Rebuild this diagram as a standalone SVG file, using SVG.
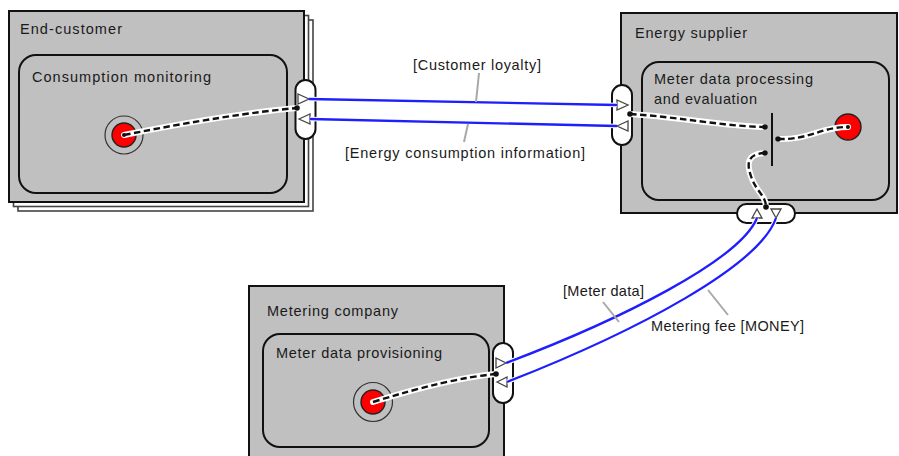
<svg xmlns="http://www.w3.org/2000/svg" width="899" height="456" viewBox="0 0 899 456">
  <style>
    .actor { fill: #c0c0c0; stroke: #111; stroke-width: 2; }
    .stack { fill: #ffffff; stroke: #444; stroke-width: 1.6; }
    .activity { fill: #c0c0c0; stroke: #111; stroke-width: 2; }
    .port { fill: #ffffff; stroke: #111; stroke-width: 2; }
    .tri { fill: #ffffff; stroke: #444; stroke-width: 1.3; stroke-linejoin: miter; }
    .lbl { font-family: "Liberation Sans", Arial, sans-serif; font-size: 14.5px; fill: #1a1a1a; }
    .halo { fill: none; stroke: #ffffff; stroke-width: 6; stroke-linecap: round; }
    .dash { fill: none; stroke: #111; stroke-width: 2.4; stroke-dasharray: 6.5 3.5; }
    .dot { fill: #111; }
    .flow-halo { fill: none; stroke: #ffffff; stroke-width: 4.5; }
    .flow { fill: none; stroke: #1e1eff; stroke-width: 2.3; }
    .leader { stroke: #a8a8a8; stroke-width: 2; }
    .ring { fill: none; stroke: #333; stroke-width: 1.2; }
    .stim { fill: #ff0000; stroke: #222; stroke-width: 1.4; }
  </style>

  <rect width="899" height="456" fill="#ffffff"/>

  <!-- End-customer (market segment: stacked actor) -->
  <g id="end-customer">
    <rect class="stack" x="18" y="20" width="295" height="191"/>
    <rect class="stack" x="13.5" y="15.5" width="295" height="191"/>
    <rect class="actor" x="9" y="11" width="295" height="191"/>
    <text class="lbl" x="20" y="34" textLength="102" lengthAdjust="spacing">End-customer</text>
    <g id="consumption-monitoring">
      <rect class="activity" x="19" y="55" width="268" height="138" rx="17"/>
      <text class="lbl" x="32" y="82" textLength="179" lengthAdjust="spacing">Consumption monitoring</text>
      <circle class="ring" cx="124" cy="135" r="19"/>
      <circle class="stim" cx="124" cy="135" r="12"/>
      <g id="ec-port">
        <rect class="port" x="295.5" y="80" width="20" height="59" rx="10"/>
        <polygon class="tri" points="298,94 309,99 298,104"/>
        <polygon class="tri" points="299,119 310,114 310,124"/>
      </g>
    </g>
  </g>

  <!-- Energy supplier -->
  <g id="energy-supplier">
    <rect class="actor" x="621" y="13" width="276" height="200"/>
    <text class="lbl" x="635" y="38" textLength="112" lengthAdjust="spacing">Energy supplier</text>
    <g id="meter-data-processing">
      <rect class="activity" x="642" y="62" width="247" height="138" rx="17"/>
      <text class="lbl" x="654" y="84" textLength="159" lengthAdjust="spacing">Meter data processing</text>
      <text class="lbl" x="654" y="104" textLength="103" lengthAdjust="spacing">and evaluation</text>
      <line x1="772" y1="113" x2="772" y2="166" stroke="#111" stroke-width="2"/>
      <circle class="stim" cx="848" cy="127" r="13"/>
    </g>
    <g id="es-port-left">
      <rect class="port" x="612" y="85" width="20" height="60" rx="10"/>
      <polygon class="tri" points="617,100 628,105 617,110"/>
      <polygon class="tri" points="617,126 628,121 628,131"/>
    </g>
    <g id="es-port-bottom">
      <rect class="port" x="737" y="204" width="58" height="19" rx="9.5"/>
      <polygon class="tri" points="757,209 762,218 752,218"/>
      <polygon class="tri" points="771,209 781,209 776,218"/>
    </g>
  </g>

  <!-- Metering company -->
  <g id="metering-company">
    <rect class="actor" x="249" y="286" width="255" height="180"/>
    <text class="lbl" x="267" y="316" textLength="131" lengthAdjust="spacing">Metering company</text>
    <g id="meter-data-provisioning">
      <rect class="activity" x="263" y="334" width="226" height="113" rx="17"/>
      <text class="lbl" x="276" y="358" textLength="166" lengthAdjust="spacing">Meter data provisioning</text>
      <circle class="ring" cx="373" cy="402" r="19.5"/>
      <circle class="stim" cx="373" cy="402" r="12"/>
    </g>
    <g id="mc-port">
      <rect class="port" x="493" y="343" width="20" height="60" rx="10"/>
      <polygon class="tri" points="496,358 506,363 496,368"/>
      <polygon class="tri" points="497,382 507,377 507,387"/>
    </g>
  </g>

  <!-- Connectors: dependency paths and value exchanges -->
  <g id="connectors">
    <!-- dependency paths -->
    <g id="paths">
      <path class="halo" d="M124,135 Q230,114 297,108"/>
      <path class="dash" d="M124,135 Q230,114 297,108"/>
      <path class="halo" d="M630,114 C680,117 720,126 765,127"/>
      <path class="dash" d="M630,114 C680,117 720,126 765,127"/>
      <path class="halo" d="M778,139 C810,140 820,127 848,127"/>
      <path class="dash" d="M778,139 C810,140 820,127 848,127"/>
      <path class="halo" d="M765,153 C745,154 747,166 752,179 C757,192 766,196 766,207"/>
      <path class="dash" d="M765,153 C745,154 747,166 752,179 C757,192 766,196 766,207"/>
      <path class="halo" d="M373,402 Q450,378 496,374"/>
      <path class="dash" d="M373,402 Q450,378 496,374"/>
      <circle class="dot" cx="124" cy="135" r="2"/>
      <circle class="dot" cx="297" cy="108" r="2.8"/>
      <circle class="dot" cx="630" cy="114" r="2.8"/>
      <circle class="dot" cx="765" cy="127" r="2.8"/>
      <circle class="dot" cx="778" cy="139" r="2.8"/>
      <circle class="dot" cx="765" cy="153" r="2.8"/>
      <circle class="dot" cx="766" cy="207" r="2.8"/>
      <circle class="dot" cx="496" cy="374" r="2.8"/>
      <circle class="dot" cx="848" cy="127" r="2"/>
    </g>

    <!-- value exchanges -->
    <g id="exchanges">
      <path class="flow-halo" d="M309,99 L617,105"/>
      <path class="flow" d="M309,99 L617,105"/>
      <path class="flow-halo" d="M310,119 L617,126"/>
      <path class="flow" d="M310,119 L617,126"/>
      <path class="flow-halo" d="M757,218 C740,260 620,320 506,363"/>
      <path class="flow" d="M757,218 C740,260 620,320 506,363"/>
      <path class="flow-halo" d="M776,218 C760,265 640,330 507,382"/>
      <path class="flow" d="M776,218 C760,265 640,330 507,382"/>
    </g>

    <!-- exchange labels -->
    <g id="labels">
      <line class="leader" x1="479" y1="73" x2="476" y2="102"/>
      <text class="lbl" x="413" y="70" textLength="128" lengthAdjust="spacing">[Customer loyalty]</text>
      <line class="leader" x1="468" y1="124" x2="464" y2="142"/>
      <text class="lbl" x="345" y="158" textLength="240" lengthAdjust="spacing">[Energy consumption information]</text>
      <line class="leader" x1="603" y1="302" x2="619" y2="322"/>
      <text class="lbl" x="563" y="296" textLength="81" lengthAdjust="spacing">[Meter data]</text>
      <line class="leader" x1="708" y1="290" x2="728" y2="315"/>
      <text class="lbl" x="651" y="331" textLength="153" lengthAdjust="spacing">Metering fee [MONEY]</text>
    </g>
  </g>
</svg>
